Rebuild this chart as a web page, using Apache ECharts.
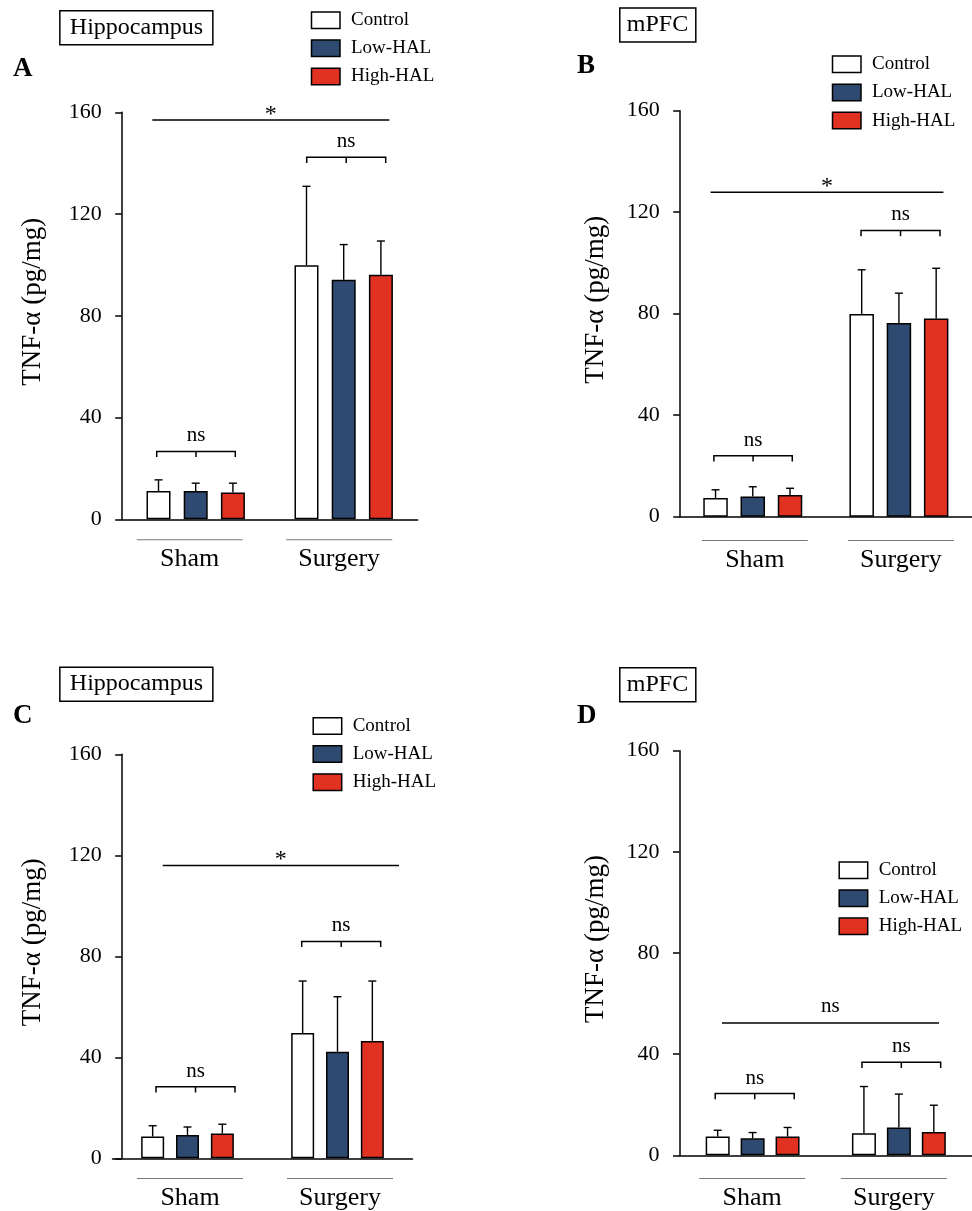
<!DOCTYPE html>
<html><head><meta charset="utf-8">
<script src="https://cdn.jsdelivr.net/npm/echarts@6/dist/echarts.min.js"></script>
<style>html,body{margin:0;padding:0;background:#fff}#c{width:972px;height:1211px}</style>
</head><body><div id="c"></div>
<script>
// ---------- data ----------
const categories = ['Sham', 'Surgery'];
const groupNames = ['Control', 'Low-HAL', 'High-HAL'];
const yTicks = [0, 40, 80, 120, 160];
const regionTitles = ['Hippocampus', 'mPFC', 'Hippocampus', 'mPFC'];
const panelLetters = ['A', 'B', 'C', 'D'];
const yAxisTitle = 'TNF-α (pg/mg)';

// Panel A (Hippocampus)
const aControl = [11.1, 99.9],  aControlSD = [4.4, 31.0];
const aLow     = [11.1, 94.2],  aLowSD     = [3.1, 13.8];
const aHigh    = [10.5, 96.1],  aHighSD    = [3.7, 13.3];
const aBracketY = [26.7, 142.3], aBracketLabels = ['ns', 'ns'];
const aOverallY = 157.0, aOverallLabel = '*';

// Panel B (mPFC)
const bControl = [7.4, 79.9],   bControlSD = [3.2, 17.4];
const bLow     = [8.0, 76.3],   bLowSD     = [3.8, 11.8];
const bHigh    = [8.6, 78.1],   bHighSD    = [2.6, 19.8];
const bBracketY = [24.0, 112.8], bBracketLabels = ['ns', 'ns'];
const bOverallY = 127.9, bOverallLabel = '*';

// Panel C (Hippocampus)
const cControl = [8.6, 49.6],   cControlSD = [4.3, 20.6];
const cLow     = [9.2, 42.2],   cLowSD     = [3.2, 21.8];
const cHigh    = [9.8, 46.5],   cHighSD    = [3.7, 23.7];
const cBracketY = [28.3, 85.9], cBracketLabels = ['ns', 'ns'];
const cOverallY = 116.0, cOverallLabel = '*';

// Panel D (mPFC)
const dControl = [7.4, 8.7],    dControlSD = [2.5, 18.5];
const dLow     = [6.7, 11.0],   dLowSD     = [2.3, 13.2];
const dHigh    = [7.4, 9.2],    dHighSD    = [3.6, 10.6];
const dBracketY = [24.4, 36.8], dBracketLabels = ['ns', 'ns'];
const dOverallY = 52.3, dOverallLabel = 'ns';

const panels = [
  {mean: [aControl, aLow, aHigh], sd: [aControlSD, aLowSD, aHighSD], br: aBracketY, brLab: aBracketLabels, ov: aOverallY, ovLab: aOverallLabel},
  {mean: [bControl, bLow, bHigh], sd: [bControlSD, bLowSD, bHighSD], br: bBracketY, brLab: bBracketLabels, ov: bOverallY, ovLab: bOverallLabel},
  {mean: [cControl, cLow, cHigh], sd: [cControlSD, cLowSD, cHighSD], br: cBracketY, brLab: cBracketLabels, ov: cOverallY, ovLab: cOverallLabel},
  {mean: [dControl, dLow, dHigh], sd: [dControlSD, dLowSD, dHighSD], br: dBracketY, brLab: dBracketLabels, ov: dOverallY, ovLab: dOverallLabel}
];

// ---------- layout & style ----------
const FONT = '"Liberation Serif", "Times New Roman", serif';
const colors = ['#ffffff', '#2f4a70', '#e03121'];
const layout = [
  {grid: {left: 121.7, top: 112.3, width: 296, height: 407}, yOffset: 0, nameGap: 75, barWidth: 24, barGap: 0.55,
   axisMargin: 20, labelDx: [-6, -4.5], bracketX: [[-39, 39.6], [-37, 42]], overallX: [-43.4, 45.6],
   legend: {left: 310.75, top: 10.75}, box: {left: 60.05, top: 10.75, padX: 9.8}, letter: {left: 13, top: 56}},
  {grid: {left: 679.7, top: 110.7, width: 298, height: 406}, yOffset: 0, nameGap: 70, barWidth: 24.5, barGap: 0.52,
   axisMargin: 23.3, labelDx: [2, 2], bracketX: [[-38.9, 39.5], [-37.9, 41.1]], overallX: [-42.2, 44.5],
   legend: {left: 831.75, top: 54.85}, box: {left: 619.05, top: 8.15, padX: 7.75}, letter: {left: 577, top: 52.5}},
  {grid: {left: 112.5, top: 754.3, width: 300, height: 405}, yOffset: -9.2, nameGap: 75, barWidth: 23, barGap: 0.515,
   axisMargin: 19.7, labelDx: [2.3, 2.3], bracketX: [[-31.5, 47.5], [-35.8, 43.2]], overallX: [-24.8, 61.5],
   legend: {left: 312.45, top: 716.45}, box: {left: 60.05, top: 667.25, padX: 9.8}, letter: {left: 13, top: 703}},
  {grid: {left: 679.5, top: 750.7, width: 307, height: 406.6}, yOffset: 0, nameGap: 70, barWidth: 24, barGap: 0.456,
   axisMargin: 22.7, labelDx: [-0.5, -5], bracketX: [[-37.4, 41.6], [-36.9, 41.8]], overallX: [-30.7, 40.1],
   legend: {left: 838.45, top: 860.65}, box: {left: 619.05, top: 667.75, padX: 7.75}, letter: {left: 577, top: 703}}
];

const lineStyle = {color: '#000', width: 1.5};

function catLabel(l) {
  const rich = {
    l: {width: 106, height: 1, lineHeight: 1, backgroundColor: '#7a7a7a'},
    t: {fontSize: 26, lineHeight: 38, fontFamily: FONT, color: '#000'}
  };
  l.labelDx.forEach((dx, ci) => {
    rich['s' + ci] = {width: Math.max(1, Math.round(Math.abs(dx) * 2)), height: 1, lineHeight: 1};
  });
  return {
    interval: 0, margin: l.axisMargin, rich: rich,
    formatter: function (v, idx) {
      const dx = l.labelDx[idx] || 0;
      const sp = '{s' + idx + '|}';
      const pre = dx > 0 ? sp : '', post = dx < 0 ? sp : '';
      return pre + '{l|}' + post + '\n' + pre + '{t|' + v + '}' + post;
    }
  };
}

function errRender(l) {
  return function (params, api) {
    const ci = api.value(0), mean = api.value(1), top = api.value(2), s = api.value(3);
    const off = (s - 1) * l.barWidth * (1 + l.barGap);
    const p0 = api.coord([ci, mean]), p1 = api.coord([ci, top]);
    const x = p0[0] + off, cap = 4;
    const st = {stroke: '#000', lineWidth: 1.4};
    return {type: 'group', children: [
      {type: 'line', shape: {x1: x, y1: p0[1], x2: x, y2: p1[1]}, style: st},
      {type: 'line', shape: {x1: x - cap, y1: p1[1], x2: x + cap, y2: p1[1]}, style: st}
    ]};
  };
}

function annRender(l, p) {
  return function (params, api) {
    const idx = params.dataIndex;
    const st = {stroke: '#000', lineWidth: 1.5, fill: 'none'};
    const ci = api.value(0), y = api.value(1);
    if (idx < 2) {
      const c = api.coord([ci, y]);
      const x1 = c[0] + l.bracketX[ci][0], x2 = c[0] + l.bracketX[ci][1], yy = c[1];
      const xm = (x1 + x2) / 2, d = 5.7;
      return {type: 'group', children: [
        {type: 'polyline', shape: {points: [[x1, yy + d], [x1, yy], [x2, yy], [x2, yy + d]]}, style: st},
        {type: 'line', shape: {x1: xm, y1: yy, x2: xm, y2: yy + d}, style: st},
        {type: 'text', style: {text: p.brLab[ci], x: xm, y: yy - 15.5, align: 'center', verticalAlign: 'middle',
          fontSize: 21, fontFamily: FONT, fill: '#000'}}
      ]};
    }
    const c0 = api.coord([0, y]), c1 = api.coord([1, y]);
    const x1 = c0[0] + l.overallX[0], x2 = c1[0] + l.overallX[1], yy = c0[1];
    const isStar = p.ovLab === '*';
    return {type: 'group', children: [
      {type: 'line', shape: {x1: x1, y1: yy, x2: x2, y2: yy}, style: st},
      {type: 'text', style: {text: p.ovLab, x: (x1 + x2) / 2, y: yy - (isStar ? 5.5 : 17), align: 'center', verticalAlign: 'middle',
        fontSize: isStar ? 24 : 21, fontFamily: FONT, fill: '#000'}}
    ]};
  };
}

const option = {
  backgroundColor: '#fff',
  animation: false,
  textStyle: {fontFamily: FONT},
  title: [],
  legend: [],
  grid: [],
  xAxis: [],
  yAxis: [],
  series: []
};

layout.forEach((l, i) => {
  const p = panels[i];
  option.grid.push(Object.assign({containLabel: false}, l.grid));
  option.title.push({text: regionTitles[i], left: l.box.left, top: l.box.top, padding: [4.9, l.box.padX],
    borderColor: '#000', borderWidth: 1.5,
    textStyle: {fontSize: 24, fontWeight: 'normal', fontFamily: FONT, color: '#000'}});
  option.title.push({text: panelLetters[i], left: l.letter.left, top: l.letter.top, padding: 0,
    textStyle: {fontSize: 27, fontWeight: 'bold', fontFamily: FONT, color: '#000'}});
  option.legend.push({data: groupNames, orient: 'vertical', left: l.legend.left, top: l.legend.top, padding: 0,
    itemWidth: 28.5, itemHeight: 16.5, itemGap: 9.1, icon: 'rect', selectedMode: false,
    itemStyle: {borderColor: '#000', borderWidth: 1.5},
    textStyle: {fontSize: 19, fontFamily: FONT, color: '#000', lineHeight: 16.5, padding: [0, 0, 0, 6]}});
  option.xAxis.push({gridIndex: i, type: 'category', data: categories,
    axisLine: {show: true, lineStyle: lineStyle}, axisTick: {show: false}, splitLine: {show: false},
    axisLabel: catLabel(l)});
  option.yAxis.push({gridIndex: i, type: 'value', min: yTicks[0], max: yTicks[yTicks.length - 1],
    interval: yTicks[1] - yTicks[0], offset: l.yOffset,
    name: yAxisTitle, nameLocation: 'middle', nameGap: l.nameGap, nameRotate: 90,
    nameTextStyle: {fontSize: 27, fontFamily: FONT, color: '#000', padding: [0, 0, 0, 28]},
    axisLine: {show: true, lineStyle: lineStyle},
    axisTick: {show: true, length: 6.5, lineStyle: lineStyle},
    axisLabel: {fontSize: 22, fontFamily: FONT, color: '#000', margin: 20},
    splitLine: {show: false}});
  groupNames.forEach((name, s) => {
    option.series.push({type: 'bar', name: name, xAxisIndex: i, yAxisIndex: i, data: p.mean[s],
      barWidth: l.barWidth, barGap: (l.barGap * 100) + '%', silent: true, z: 2,
      itemStyle: {color: colors[s], borderColor: '#000', borderWidth: 1.5}});
  });
  const errData = [];
  groupNames.forEach((name, s) => {
    categories.forEach((c, ci) => errData.push([ci, p.mean[s][ci], p.mean[s][ci] + p.sd[s][ci], s]));
  });
  option.series.push({type: 'custom', name: 'err' + i, xAxisIndex: i, yAxisIndex: i, z: 3, silent: true,
    renderItem: errRender(l), data: errData, encode: {x: 0, y: [1, 2]}});
  const annData = [[0, p.br[0]], [1, p.br[1]], [0, p.ov]];
  option.series.push({type: 'custom', name: 'ann' + i, xAxisIndex: i, yAxisIndex: i, z: 3, silent: true,
    renderItem: annRender(l, p), data: annData, encode: {x: 0, y: 1}});
});

const chart = echarts.init(document.getElementById('c'), null, {renderer: 'canvas'});
chart.setOption(option);
</script>
</body></html>
